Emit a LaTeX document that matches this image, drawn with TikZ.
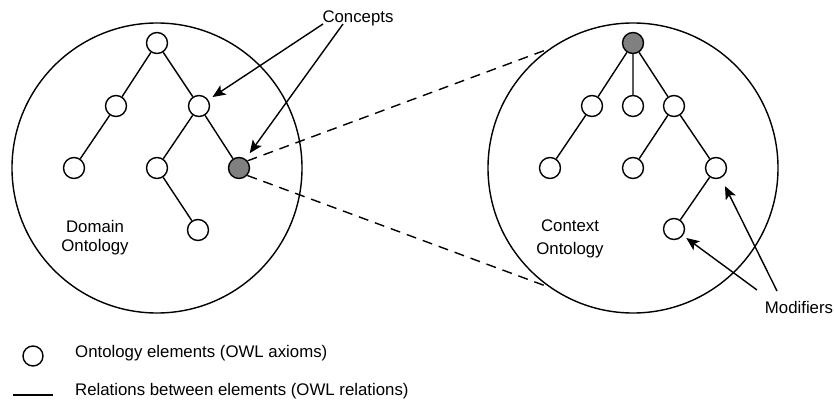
\documentclass[tikz,border=0pt]{standalone}
\usepackage{fontspec}
\setmainfont{Liberation Sans}
\usetikzlibrary{arrows.meta}
\begin{document}
\begin{tikzpicture}[x=1pt,y=-1pt,
 el/.style={circle,draw,line width=1.4pt,minimum size=21pt,inner sep=0pt,fill=white},
 gel/.style={el,fill=gray},
 onto/.style={circle,draw,line width=1.4pt,minimum size=290pt,inner sep=0pt},
 rel/.style={line width=1.4pt},
 lbl/.style={font=\fontsize{16.8}{20}\selectfont,inner sep=0pt,anchor=base},
 lgl/.style={lbl,anchor=base west},
 ptr/.style={line width=1.4pt,-{Stealth[length=13pt,width=11pt,inset=3pt]}},
 link/.style={line width=1.4pt,dash pattern=on 10pt off 7pt}]
\useasboundingbox (0,0) rectangle (834,401);
% ontology circles
\node[onto] (Lc) at (157,168) {};
\node[onto] (Rc) at (633,168) {};
% left tree
\node[el] (L0) at (157,43) {};
\node[el] (L1a) at (116,106) {};
\node[el] (L1b) at (199,106) {};
\node[el] (L2a) at (74,168) {};
\node[el] (L2b) at (157,168) {};
\node[gel] (Lg) at (239,168) {};
\node[el] (L3) at (198,230) {};
\draw[rel] (L0) -- (L1a) (L0) -- (L1b) (L1a) -- (L2a) (L1b) -- (L2b) (L1b) -- (Lg) (L2b) -- (L3);
% right tree
\node[gel] (R0) at (633,43) {};
\node[el] (R1a) at (592,106) {};
\node[el] (R1b) at (633,106) {};
\node[el] (R1c) at (674,106) {};
\node[el] (R2a) at (550,168) {};
\node[el] (R2b) at (633,168) {};
\node[el] (R2c) at (716,168) {};
\node[el] (R3) at (674,229) {};
\draw[rel] (R0) -- (R1a) (R0) -- (R1b) (R0) -- (R1c) (R1a) -- (R2a) (R1c) -- (R2b) (R1c) -- (R2c) (R2c) -- (R3);
% dashed links
\draw[link] (Lg.40) -- (Rc.125);
\draw[link] (Lg.-42) -- (Rc.-125);
% labels
\node[lbl] at (95,232) {Domain};
\node[lbl] at (95,251) {Ontology};
\node[lbl] at (570,231) {Context};
\node[lbl] at (570,254) {Ontology};
\node[lbl] (C) at (358,23) {Concepts};
\node[lbl] (M) at (799,313) {Modifiers};
\coordinate (ca) at (323,24);
\coordinate (cb) at (343,24);
\coordinate (ma) at (757,290);
\coordinate (mb) at (777,291);
\draw[ptr,shorten >=5pt] (ca) -- (L1b);
\draw[ptr,shorten >=7pt] (cb) -- (Lg);
\draw[ptr,shorten >=4pt] (ma) -- (R3);
\draw[ptr,shorten >=9pt] (mb) -- (R2c);
% legend
\node[el,minimum size=20pt] (lgc) at (33,356) {};
\node[lgl] (lgt1) at (75,357) {Ontology elements (OWL axioms)};
\coordinate (lga) at (13,395);
\coordinate (lgb) at (53,395);
\draw[rel] (lga) -- (lgb);
\node[lgl] (lgt2) at (75,395) {Relations between elements (OWL relations)};
\end{tikzpicture}
\end{document}
